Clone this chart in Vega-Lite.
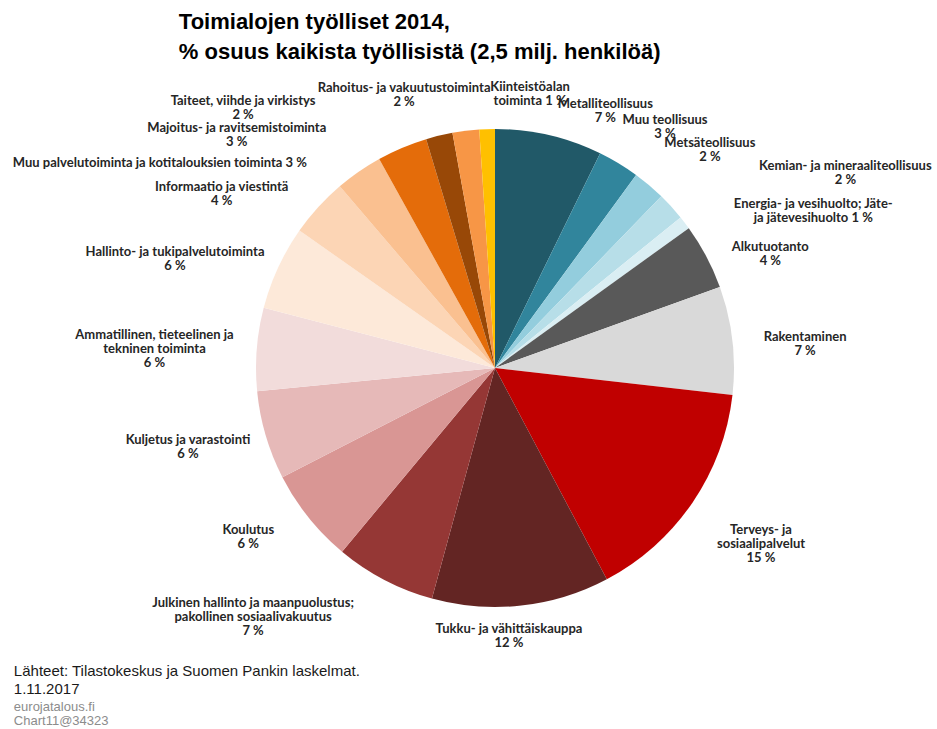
{
  "$schema": "https://vega.github.io/schema/vega-lite/v6.json",
  "background": "white",
  "padding": {"left": 12, "top": 11, "right": 0, "bottom": 0},
  "title": {
    "text": ["Toimialojen työlliset 2014,", "% osuus kaikista työllisistä (2,5 milj. henkilöä)"],
    "anchor": "start", "frame": "bounds", "dx": 166, "offset": 11,
    "font": "Liberation Sans", "fontSize": 22, "fontWeight": "bold", "lineHeight": 30, "color": "#000000"
  },
  "config": {
    "view": {"stroke": null},
    "text": {"font": "Lato", "fontSize": 13, "fontWeight": "bold", "lineBreak": "\n", "lineHeight": 14, "align": "center", "baseline": "middle", "fill": "#262626"}
  },
  "vconcat": [
    {
      "width": 884,
      "height": 586,
      "title": {
        "text": ["Lähteet: Tilastokeskus ja Suomen Pankin laskelmat.", "1.11.2017"],
        "subtitle": ["eurojatalous.fi", "Chart11@34323"],
        "orient": "bottom", "anchor": "start", "frame": "bounds", "dx": 1, "offset": 3,
        "font": "Liberation Sans", "fontSize": 15, "fontWeight": "normal", "lineHeight": 18, "color": "#1a1a1a",
        "subtitleFont": "Liberation Sans", "subtitleFontSize": 13, "subtitleColor": "#8c8c8c", "subtitleLineHeight": 14, "subtitlePadding": 4
      },
      "data": {"values": [
        {"order": 1, "name": "Metalliteollisuus", "label": "Metalliteollisuus\n7 %", "value": 7.25},
        {"order": 2, "name": "Muu teollisuus", "label": "Muu teollisuus\n3 %", "value": 2.8},
        {"order": 3, "name": "Metsäteollisuus", "label": "Metsäteollisuus\n2 %", "value": 2.2},
        {"order": 4, "name": "Kemian- ja mineraaliteollisuus", "label": "Kemian- ja mineraaliteollisuus\n2 %", "value": 1.9},
        {"order": 5, "name": "Energia- ja vesihuolto; Jäte- ja jätevesihuolto", "label": "Energia- ja vesihuolto; Jäte-\nja jätevesihuolto 1 %", "value": 0.9},
        {"order": 6, "name": "Alkutuotanto", "label": "Alkutuotanto\n4 %", "value": 4.45},
        {"order": 7, "name": "Rakentaminen", "label": "Rakentaminen\n7 %", "value": 7.3},
        {"order": 8, "name": "Terveys- ja sosiaalipalvelut", "label": "Terveys- ja\nsosiaalipalvelut\n15 %", "value": 15.45},
        {"order": 9, "name": "Tukku- ja vähittäiskauppa", "label": "Tukku- ja vähittäiskauppa\n12 %", "value": 12.0},
        {"order": 10, "name": "Julkinen hallinto ja maanpuolustus; pakollinen sosiaalivakuutus", "label": "Julkinen hallinto ja maanpuolustus;\npakollinen sosiaalivakuutus\n7 %", "value": 6.8},
        {"order": 11, "name": "Koulutus", "label": "Koulutus\n6 %", "value": 6.4},
        {"order": 12, "name": "Kuljetus ja varastointi", "label": "Kuljetus ja varastointi\n6 %", "value": 6.0},
        {"order": 13, "name": "Ammatillinen, tieteellinen ja tekninen toiminta", "label": "Ammatillinen, tieteelinen ja\ntekninen toiminta\n6 %", "value": 5.6},
        {"order": 14, "name": "Hallinto- ja tukipalvelutoiminta", "label": "Hallinto- ja tukipalvelutoiminta\n6 %", "value": 5.7},
        {"order": 15, "name": "Informaatio ja viestintä", "label": "Informaatio ja viestintä\n4 %", "value": 4.0},
        {"order": 16, "name": "Muu palvelutoiminta ja kotitalouksien toiminta", "label": "Muu palvelutoiminta ja kotitalouksien toiminta 3 %", "value": 3.2},
        {"order": 17, "name": "Majoitus- ja ravitsemistoiminta", "label": "Majoitus- ja ravitsemistoiminta\n3 %", "value": 3.4},
        {"order": 18, "name": "Taiteet, viihde ja virkistys", "label": "Taiteet, viihde ja virkistys\n2 %", "value": 1.8},
        {"order": 19, "name": "Rahoitus- ja vakuutustoiminta", "label": "Rahoitus- ja vakuutustoiminta\n2 %", "value": 1.8},
        {"order": 20, "name": "Kiinteistöalan toiminta", "label": "Kiinteistöalan\ntoiminta 1 %", "value": 1.05}
      ]},
      "transform": [
        {"stack": "value", "groupby": [], "sort": [{"field": "order", "order": "ascending"}], "as": ["v0", "v1"]}
      ],
      "layer": [
        {
          "mark": {"type": "arc", "radius": 239, "strokeWidth": 0},
          "encoding": {
            "theta": {"field": "v0", "type": "quantitative", "scale": {"domain": [0, 100]}},
            "theta2": {"field": "v1"},
            "color": {
              "field": "name", "type": "nominal", "legend": null,
              "scale": {
                "domain": ["Metalliteollisuus", "Muu teollisuus", "Metsäteollisuus", "Kemian- ja mineraaliteollisuus", "Energia- ja vesihuolto; Jäte- ja jätevesihuolto", "Alkutuotanto", "Rakentaminen", "Terveys- ja sosiaalipalvelut", "Tukku- ja vähittäiskauppa", "Julkinen hallinto ja maanpuolustus; pakollinen sosiaalivakuutus", "Koulutus", "Kuljetus ja varastointi", "Ammatillinen, tieteellinen ja tekninen toiminta", "Hallinto- ja tukipalvelutoiminta", "Informaatio ja viestintä", "Muu palvelutoiminta ja kotitalouksien toiminta", "Majoitus- ja ravitsemistoiminta", "Taiteet, viihde ja virkistys", "Rahoitus- ja vakuutustoiminta", "Kiinteistöalan toiminta"],
                "range": ["#215968", "#31859c", "#93cddd", "#b7dee8", "#daeef3", "#595959", "#d9d9d9", "#c00000", "#632523", "#953735", "#d99694", "#e6b9b8", "#f2dcdb", "#fde9d9", "#fcd5b5", "#fac090", "#e46c0a", "#984807", "#f79646", "#ffc000"]
              }
            }
          }
        },
        {"transform": [{"filter": "datum.order == 1"}], "mark": {"type": "text", "radius": 280, "thetaOffset": 0.4049, "dy": -7}, "encoding": {"theta": {"field": "v0", "type": "quantitative"}, "text": {"field": "label"}}},
        {"transform": [{"filter": "datum.order == 2"}], "mark": {"type": "text", "radius": 295, "thetaOffset": 0.1588, "dy": -7}, "encoding": {"theta": {"field": "v0", "type": "quantitative"}, "text": {"field": "label"}}},
        {"transform": [{"filter": "datum.order == 3"}], "mark": {"type": "text", "radius": 306, "thetaOffset": 0.1470, "dy": -7}, "encoding": {"theta": {"field": "v0", "type": "quantitative"}, "text": {"field": "label"}}},
        {"transform": [{"filter": "datum.order == 4"}], "mark": {"type": "text", "radius": 401, "thetaOffset": 0.2932, "dy": -7}, "encoding": {"theta": {"field": "v0", "type": "quantitative"}, "text": {"field": "label"}}},
        {"transform": [{"filter": "datum.order == 5"}], "mark": {"type": "text", "radius": 355, "thetaOffset": 0.2227, "dy": -7}, "encoding": {"theta": {"field": "v0", "type": "quantitative"}, "text": {"field": "label"}}},
        {"transform": [{"filter": "datum.order == 6"}], "mark": {"type": "text", "radius": 298, "thetaOffset": 0.2325, "dy": -7}, "encoding": {"theta": {"field": "v0", "type": "quantitative"}, "text": {"field": "label"}}},
        {"transform": [{"filter": "datum.order == 7"}], "mark": {"type": "text", "radius": 311, "thetaOffset": 0.2688, "dy": -7}, "encoding": {"theta": {"field": "v0", "type": "quantitative"}, "text": {"field": "label"}}},
        {"transform": [{"filter": "datum.order == 8"}], "mark": {"type": "text", "radius": 319, "thetaOffset": 0.4716, "dy": -14}, "encoding": {"theta": {"field": "v0", "type": "quantitative"}, "text": {"field": "label"}}},
        {"transform": [{"filter": "datum.order == 9"}], "mark": {"type": "text", "radius": 268, "thetaOffset": 0.4346, "dy": -7}, "encoding": {"theta": {"field": "v0", "type": "quantitative"}, "text": {"field": "label"}}},
        {"transform": [{"filter": "datum.order == 10"}], "mark": {"type": "text", "radius": 347, "thetaOffset": 0.5044, "dy": -14}, "encoding": {"theta": {"field": "v0", "type": "quantitative"}, "text": {"field": "label"}}},
        {"transform": [{"filter": "datum.order == 11"}], "mark": {"type": "text", "radius": 299, "thetaOffset": 0.2761, "dy": -7}, "encoding": {"theta": {"field": "v0", "type": "quantitative"}, "text": {"field": "label"}}},
        {"transform": [{"filter": "datum.order == 12"}], "mark": {"type": "text", "radius": 317, "thetaOffset": 0.2231, "dy": -7}, "encoding": {"theta": {"field": "v0", "type": "quantitative"}, "text": {"field": "label"}}},
        {"transform": [{"filter": "datum.order == 13"}], "mark": {"type": "text", "radius": 341, "thetaOffset": 0.1532, "dy": -14}, "encoding": {"theta": {"field": "v0", "type": "quantitative"}, "text": {"field": "label"}}},
        {"transform": [{"filter": "datum.order == 14"}], "mark": {"type": "text", "radius": 338, "thetaOffset": 0.0737, "dy": -7}, "encoding": {"theta": {"field": "v0", "type": "quantitative"}, "text": {"field": "label"}}},
        {"transform": [{"filter": "datum.order == 15"}], "mark": {"type": "text", "radius": 324, "thetaOffset": -0.0454, "dy": -7}, "encoding": {"theta": {"field": "v0", "type": "quantitative"}, "text": {"field": "label"}}},
        {"transform": [{"filter": "datum.order == 16"}], "mark": {"type": "text", "radius": 393, "thetaOffset": -0.3142}, "encoding": {"theta": {"field": "v0", "type": "quantitative"}, "text": {"field": "label"}}},
        {"transform": [{"filter": "datum.order == 17"}], "mark": {"type": "text", "radius": 348, "thetaOffset": -0.3302, "dy": -7}, "encoding": {"theta": {"field": "v0", "type": "quantitative"}, "text": {"field": "label"}}},
        {"transform": [{"filter": "datum.order == 18"}], "mark": {"type": "text", "radius": 362, "thetaOffset": -0.4775, "dy": -7}, "encoding": {"theta": {"field": "v0", "type": "quantitative"}, "text": {"field": "label"}}},
        {"transform": [{"filter": "datum.order == 19"}], "mark": {"type": "text", "radius": 288, "thetaOffset": -0.1421, "dy": -7}, "encoding": {"theta": {"field": "v0", "type": "quantitative"}, "text": {"field": "label"}}},
        {"transform": [{"filter": "datum.order == 20"}], "mark": {"type": "text", "radius": 276, "thetaOffset": 0.1934, "dy": -7}, "encoding": {"theta": {"field": "v0", "type": "quantitative"}, "text": {"field": "label"}}}
      ]
    }
  ]
}
